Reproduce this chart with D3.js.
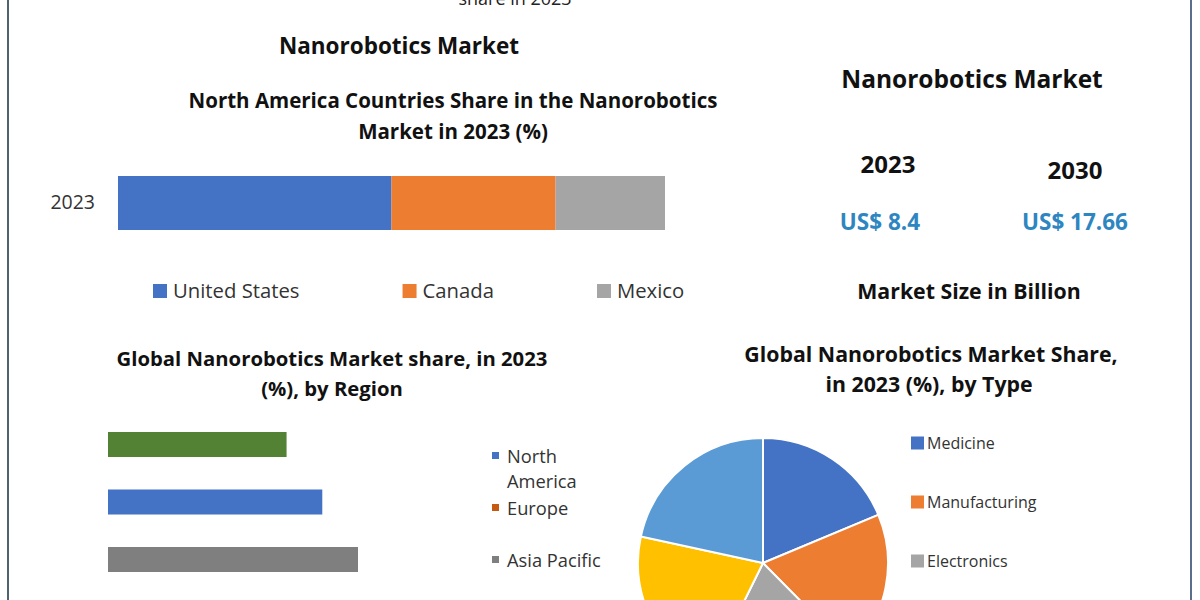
<!DOCTYPE html>
<html>
<head>
<meta charset="utf-8">
<script src="https://cdn.jsdelivr.net/npm/d3@7"></script>
<style>
    body { margin: 0; background: #fff; }
    svg { display: block; font-family: "Open Sans", sans-serif; }
</style>
</head>
<body>
<svg id="chart" width="1200" height="600"></svg>
<script>
// ---- data ----
const naYears = ["2023"];
const naCountries = ["United States", "Canada", "Mexico"];
const naShares = [50, 30, 20];
const naColors = ["#4472c4", "#ed7d31", "#a5a5a5"];

const marketYears = ["2023", "2030"];
const marketValues = [8.4, 17.66];

const regionBarValues = [25, 30, 35];
const regionBarColors = ["#548235", "#4472c4", "#7f7f7f"];
const regionNames = ["North America", "Europe", "Asia Pacific"];
const regionColors = ["#4472c4", "#c55a11", "#7f7f7f"];

const typeNames = ["Medicine", "Manufacturing", "Electronics"];
const typeShares = [18.7, 18.9, 19.7, 21.1, 21.6];
const typeColors = ["#4472c4", "#ed7d31", "#a5a5a5", "#ffc000", "#5b9bd5"];

const TITLE_COLOR = "#111";
const TEXT_COLOR = "#333";
const VALUE_COLOR = "#2e86c1";

const svg = d3.select("#chart");

// frame lines at the sides
svg.append("line").attr("x1", 8).attr("x2", 8).attr("y1", 0).attr("y2", 600)
    .attr("stroke", "#4e6270").attr("stroke-width", 2);
svg.append("line").attr("x1", 1191).attr("x2", 1191).attr("y1", 0).attr("y2", 600)
    .attr("stroke", "#5b6f8c").attr("stroke-width", 2);

function title(x, y, text, size, weight, color) {
    return svg.append("text")
        .attr("x", x).attr("y", y)
        .attr("text-anchor", "middle")
        .attr("font-size", size)
        .attr("font-weight", weight || 700)
        .attr("fill", color || TITLE_COLOR)
        .text(text);
}

// cut-off line at the very top (the reference is cropped there)
title(515, 5, "share in 2023", 18, 400, "#222");

// ---- North America stacked bar ----
title(399, 54, "Nanorobotics Market", 22.5);
title(453, 108, "North America Countries Share in the Nanorobotics", 20.5);
title(453, 139, "Market in 2023 (%)", 20.5);

const naX = d3.scaleLinear().domain([0, d3.sum(naShares)]).range([118, 665]);
const naY = d3.scaleBand().domain(naYears).range([176, 230]);

const naRow = {};
naCountries.forEach((c, i) => { naRow[c] = naShares[i]; });
const stacked = d3.stack().keys(naCountries)([naRow]);

svg.append("g")
    .selectAll("rect")
    .data(stacked)
    .enter()
    .append("rect")
    .attr("x", d => naX(d[0][0]))
    .attr("width", d => naX(d[0][1]) - naX(d[0][0]))
    .attr("y", naY(naYears[0]))
    .attr("height", naY.bandwidth())
    .attr("fill", (d, i) => naColors[i]);

const naAxis = svg.append("g")
    .attr("transform", "translate(118,0)")
    .call(d3.axisLeft(naY).tickSize(0).tickPadding(23));
naAxis.select(".domain").remove();
naAxis.selectAll("text")
    .attr("font-family", "Open Sans")
    .attr("font-size", 19.5)
    .attr("fill", TEXT_COLOR);

// legend, laid out by text width
let legendX = 153;
naCountries.forEach((c, i) => {
    svg.append("rect")
        .attr("x", legendX).attr("y", 284)
        .attr("width", 14).attr("height", 14)
        .attr("fill", naColors[i]);
    const t = svg.append("text")
        .attr("x", legendX + 20).attr("y", 298)
        .attr("font-size", 20.3)
        .attr("fill", TEXT_COLOR)
        .text(c);
    legendX += 20 + t.node().getComputedTextLength() + 103;
});

// ---- market size panel ----
title(972, 88, "Nanorobotics Market", 24.5);
const yearX = d3.scalePoint().domain(marketYears).range([888, 1075]);
marketYears.forEach((yr, i) => {
    title(yearX(yr), 173 + i * 6, yr, 24);
    title(yearX(yr) + (i === 0 ? -8 : 0), 230, "US$ " + marketValues[i], 22.5, 700, VALUE_COLOR);
});
title(969, 299, "Market Size in Billion", 21.3);

// ---- region bars ----
title(332, 366, "Global Nanorobotics Market share, in 2023", 20.3);
title(332, 396, "(%), by Region", 20.3);

const regX = d3.scaleLinear().domain([0, 35]).range([108, 358]);
const regY = d3.scaleBand().domain(d3.range(regionBarValues.length))
    .range([415.75, 588.25]).paddingInner(0.565).paddingOuter(0.2826);

svg.append("g")
    .selectAll("rect")
    .data(regionBarValues)
    .enter()
    .append("rect")
    .attr("x", regX(0))
    .attr("y", (d, i) => regY(i))
    .attr("width", d => regX(d) - regX(0))
    .attr("height", regY.bandwidth())
    .attr("fill", (d, i) => regionBarColors[i]);

const regLegendY = d3.scaleLinear().domain([0, 1]).range([456, 508]);
regionNames.forEach((name, i) => {
    const cy = regLegendY(i);
    svg.append("rect")
        .attr("x", 492).attr("y", cy - 4)
        .attr("width", 7).attr("height", 7)
        .attr("fill", regionColors[i]);
    // Excel wrapped "North America" onto two lines
    const lines = name === "North America" ? ["North", "America"] : [name];
    lines.forEach((line, j) => {
        svg.append("text")
            .attr("x", 507).attr("y", cy + 7 + j * 25)
            .attr("font-size", 18.3)
            .attr("fill", TEXT_COLOR)
            .text(line);
    });
});

// ---- pie by type ----
title(931, 362, "Global Nanorobotics Market Share,", 21.3);
title(929, 392, "in 2023 (%), by Type", 21.3);

const pie = d3.pie().sort(null).value(d => d);
const arc = d3.arc().innerRadius(0).outerRadius(125);

svg.append("g")
    .attr("transform", "translate(763,563)")
    .selectAll("path")
    .data(pie(typeShares))
    .enter()
    .append("path")
    .attr("d", arc)
    .attr("fill", (d, i) => typeColors[i])
    .attr("stroke", "#fff")
    .attr("stroke-width", 2);

const typeLegendY = d3.scaleLinear().domain([0, 1]).range([443, 502]);
typeNames.forEach((name, i) => {
    const cy = typeLegendY(i);
    svg.append("rect")
        .attr("x", 911).attr("y", cy - 6.5)
        .attr("width", 13).attr("height", 13)
        .attr("fill", typeColors[i]);
    svg.append("text")
        .attr("x", 927).attr("y", cy + 6)
        .attr("font-size", 16)
        .attr("fill", TEXT_COLOR)
        .text(name);
});
</script>
</body>
</html>
